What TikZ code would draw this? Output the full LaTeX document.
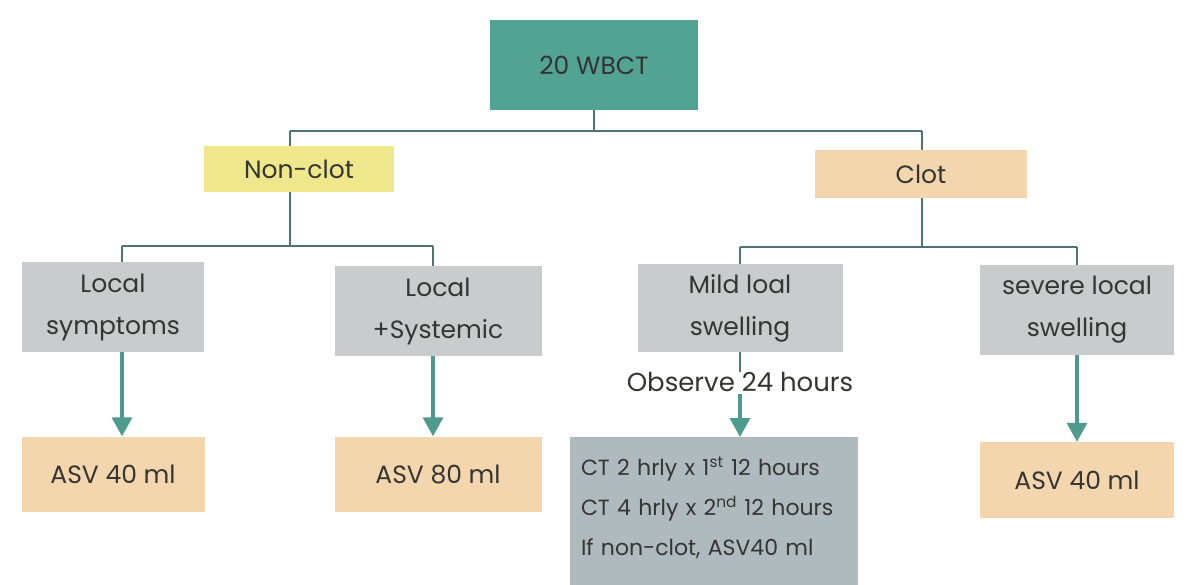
\documentclass[tikz,border=0pt]{standalone}
\usepackage{fontspec}
\setmainfont{Poppins}
\usetikzlibrary{arrows.meta}
\definecolor{teal1}{HTML}{52A392}
\definecolor{yel}{HTML}{EEE78C}
\definecolor{peach}{HTML}{F3D5AE}
\definecolor{greybox}{HTML}{C9CBCC}
\definecolor{ctbox}{HTML}{AFBABE}
\definecolor{treeline}{HTML}{4F7472}
\definecolor{arrowc}{HTML}{4E9A8C}
\definecolor{txt}{HTML}{353532}
\tikzset{
  box/.style={draw=none, inner sep=0pt, align=center, text=txt, font=\fontsize{25}{42}\selectfont},
  tree/.style={draw=treeline, line width=2.8pt},
  arr/.style={draw=arrowc, line width=3.4pt, -{Triangle[width=20pt,length=19pt]}, arrowc}
}
\begin{document}
\begin{tikzpicture}[x=1pt,y=-1pt]
\useasboundingbox[fill=white] (0,0) rectangle (1196,585);
\clip (0,0) rectangle (1196,585);
\coordinate (j1) at (594,131);
\coordinate (jl) at (290,131);
\coordinate (jr) at (922,131);
\coordinate (j2) at (290,246);
\coordinate (j2l) at (122,246);
\coordinate (j2r) at (433,246);
\coordinate (j3) at (922,247);
\coordinate (j3l) at (740,247);
\coordinate (j3r) at (1077,247);

\node[box, fill=teal1, minimum width=208pt, minimum height=90pt, text=black!80] (top) at (594,65) {20 WBCT};
\node[box, fill=yel, minimum width=190pt, minimum height=46pt] (nonclot) at (299,169) {Non-clot};
\node[box, fill=peach, minimum width=212pt, minimum height=48pt] (clot) at (921,174) {Clot};

\node[box, fill=greybox, minimum width=182pt, minimum height=90pt] (ls) at (113,307) {Local\\symptoms};
\node[box, fill=greybox, minimum width=207pt, minimum height=90pt] (lsys) at (438,311) {Local\\+Systemic};
\node[box, fill=greybox, minimum width=205pt, minimum height=87pt] (mild) at (740,308) {Mild loal\\swelling};
\node[box, fill=greybox, minimum width=194pt, minimum height=90pt] (sev) at (1077,310) {severe local\\swelling};

\node[box, font=\fontsize{26}{30}\selectfont] (obs) at (740,382) {Observe 24 hours};

\node[box, fill=peach, minimum width=183pt, minimum height=75pt] (asv1) at (113,474) {ASV 40 ml};
\node[box, fill=peach, minimum width=207pt, minimum height=75pt] (asv2) at (438,474) {ASV 80 ml};
\node[box, fill=ctbox, text width=266pt, inner xsep=11pt, inner ysep=20pt, align=left, anchor=north, font=\fontsize{22}{40}\selectfont] (ct) at (714,437) {CT 2 hrly x 1\textsuperscript{st} 12 hours\\CT 4 hrly x 2\textsuperscript{nd} 12 hours\\If non-clot, ASV40 ml\\[10pt]\mbox{}};
\node[box, fill=peach, minimum width=194pt, minimum height=76pt] (asv3) at (1077,480) {ASV 40 ml};

\draw[tree] (top.south) -- (j1);
\draw[tree] (jl) -- (jr);
\draw[tree] (jl) -- (jl |- nonclot.north);
\draw[tree] (jr) -- (jr |- clot.north);
\draw[tree] (jl |- nonclot.south) -- (j2);
\draw[tree] (j2l) -- (j2r);
\draw[tree] (j2l) -- (j2l |- ls.north);
\draw[tree] (j2r) -- (j2r |- lsys.north);
\draw[tree] (jr |- clot.south) -- (j3);
\draw[tree] (j3l) -- (j3r);
\draw[tree] (j3l) -- (j3l |- mild.north);
\draw[tree] (j3r) -- (j3r |- sev.north);

\draw[arr] (j2l |- ls.south) -- (j2l |- asv1.north);
\draw[arr] (j2r |- lsys.south) -- (j2r |- asv2.north);
\draw[arr] (obs.south) ++(0,2) coordinate (obsb) (obsb) -- (obsb |- ct.north);
\draw[treeline, line width=1.5pt] (mild.south) -- (obs.north);
\draw[arr] (j3r |- sev.south) -- (j3r |- asv3.north);
\end{tikzpicture}
\end{document}
